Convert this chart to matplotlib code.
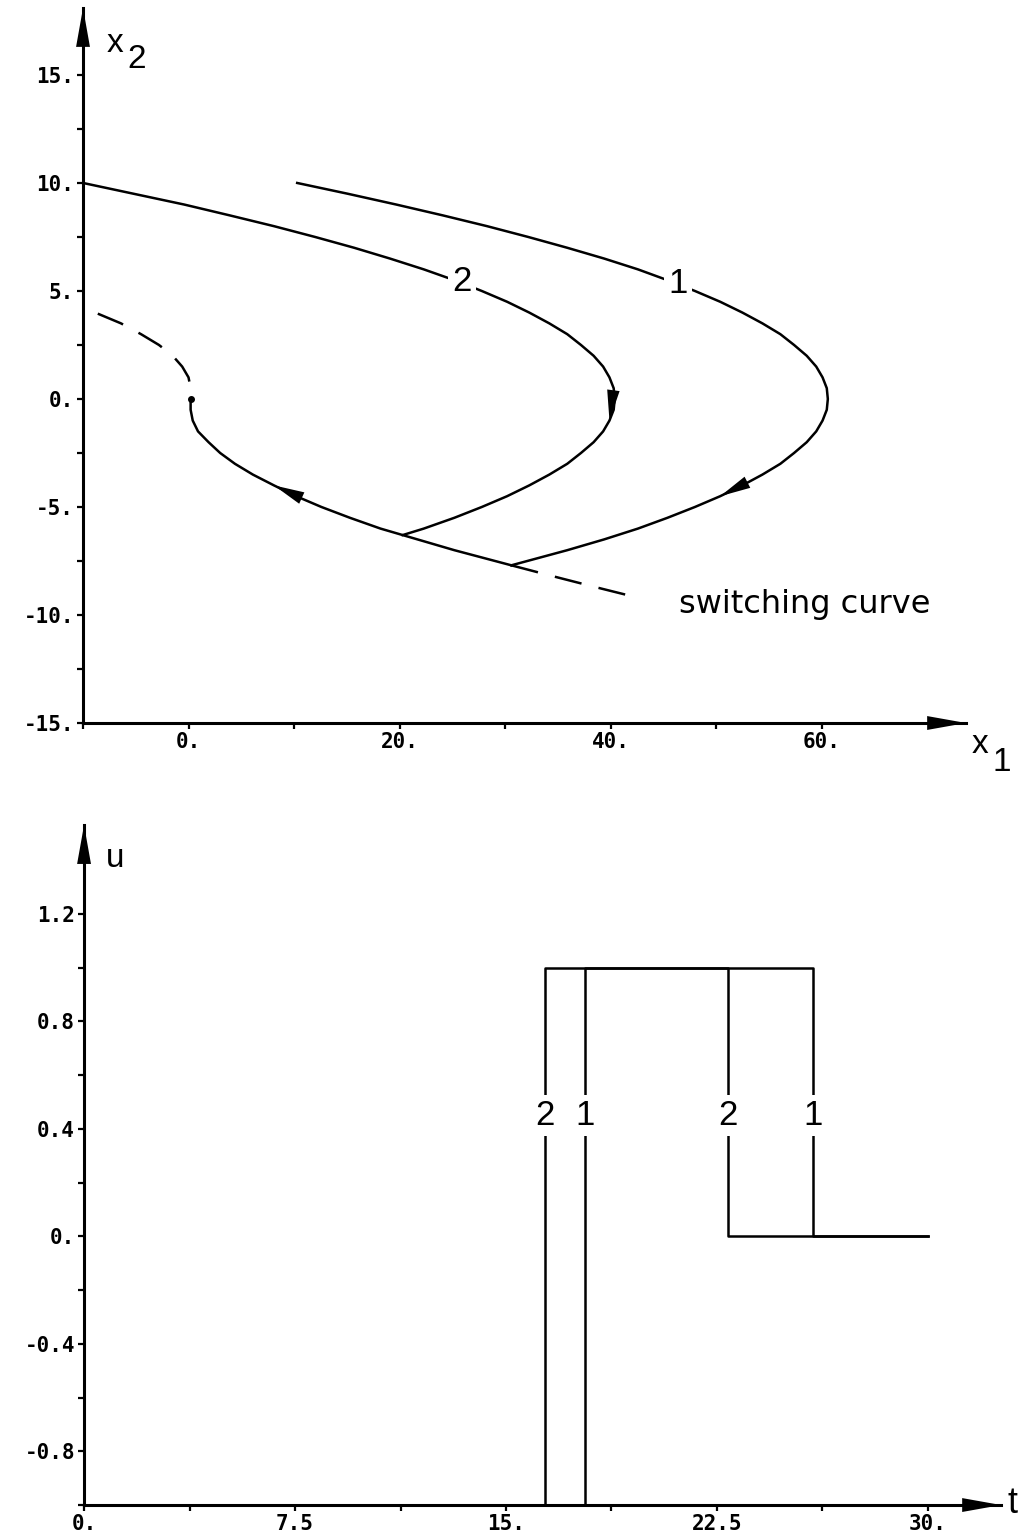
import numpy as np
import matplotlib.pyplot as plt

# Phase plane: trajectories 1 and 2 (x2 going down, x1)
traj1_x2 = [10, 9.5, 9, 8.5, 8, 7.5, 7, 6.5, 6, 5.5, 5, 4.5, 4, 3.5, 3, 2.5, 2, 1.5, 1, 0.5, 0,
            -0.5, -1, -1.5, -2, -2.5, -3, -3.5, -4, -4.5, -5, -5.5, -6, -6.5, -7, -7.7]
traj1_x1 = [10.3, 15.1, 19.7, 24.1, 28.3, 32.2, 35.9, 39.4, 42.6, 45.4, 48.0, 50.4, 52.5, 54.4,
            56.1, 57.4, 58.6, 59.5, 60.1, 60.5, 60.6, 60.5, 60.1, 59.5, 58.6, 57.4, 56.1, 54.4,
            52.5, 50.4, 48.0, 45.4, 42.6, 39.4, 35.9, 30.6]
traj2_x2 = [10, 9.5, 9, 8.5, 8, 7.5, 7, 6.5, 6, 5.5, 5, 4.5, 4, 3.5, 3, 2.5, 2, 1.5, 1, 0.5, 0,
            -0.5, -1, -1.5, -2, -2.5, -3, -3.5, -4, -4.5, -5, -5.5, -6, -6.3]
traj2_x1 = [-10.0, -5.2, -0.4, 3.9, 8.1, 12.0, 15.7, 19.1, 22.3, 25.2, 27.8, 30.2, 32.3, 34.2,
            35.9, 37.2, 38.4, 39.3, 39.9, 40.3, 40.4, 40.3, 39.9, 39.3, 38.4, 37.2, 35.9, 34.2,
            32.3, 30.2, 27.8, 25.2, 22.3, 20.3]

# switching curve, upper dashed branch, solid part, lower dashed tail
switch_x2 = [3.95, 3.5, 3.0, 2.5, 2.0, 1.5, 1.0, 0.5, 0.0, -0.5, -1.0, -1.5, -2.0, -2.5, -3.0,
             -3.5, -4.0, -4.5, -5.0, -5.5, -6.0, -6.3, -7.0, -7.7, -8.2, -8.7, -9.2]
switch_x1 = [-8.6, -6.4, -4.5, -2.8, -1.5, -0.6, 0.0, 0.2, 0.2, 0.2, 0.4, 0.9, 1.9, 3.0, 4.4,
             6.1, 8.1, 10.2, 12.6, 15.3, 18.2, 20.3, 25.2, 30.6, 34.5, 38.5, 42.6]
switch_solid = (0.0, -7.7)   # x2 range drawn solid

# curve number labels in the phase plane
phase_labels = ['2', '1']
phase_label_x1 = [25.9, 46.4]
phase_label_x2 = [5.43, 5.34]

# control u(t): both runs start at -1, switch to +1, then to 0
u_runs = ['2', '1']
t_on = [16.4, 17.8]
t_off = [22.9, 25.9]
t_end = 30.0
u_start, u_mid, u_final = -1.0, 1.0, 0.0
u_label_level = 0.45

# axis ticks
x1_major = [0, 20, 40, 60]
x1_minor = [-10, 10, 30, 50]
x2_major = [-15, -10, -5, 0, 5, 10, 15]
x2_minor = [-12.5, -7.5, -2.5, 2.5, 7.5, 12.5]
t_major = [0, 7.5, 15, 22.5, 30]
t_minor = [3.75, 11.25, 18.75, 26.25]
u_major = [-0.8, -0.4, 0, 0.4, 0.8, 1.2]
u_minor = [-1.0, -0.6, -0.2, 0.2, 0.6, 1.0]

x1_ticklabels = ['0.', '20.', '40.', '60.']
x2_ticklabels = ['-15.', '-10.', '-5.', '0.', '5.', '10.', '15.']
t_ticklabels = ['0.', '7.5', '15.', '22.5', '30.']
u_ticklabels = ['-0.8', '-0.4', '0.', '0.4', '0.8', '1.2']

plt.rcParams['font.family'] = ['DejaVu Sans']
tick_kw = dict(fontfamily='DejaVu Sans Mono', fontweight='bold', fontsize=15)
num_font = ['Liberation Sans', 'DejaVu Sans']
lw = 1.8

fig = plt.figure(figsize=(10.3, 15.37), dpi=100)
ax1 = fig.add_axes([0.0806, 0.5296, 0.8573, 0.4652])
ax2 = fig.add_axes([0.0816, 0.0208, 0.8903, 0.4424])


def style_axis(ax):
    for s in ['top', 'right']:
        ax.spines[s].set_visible(False)
    for s in ['left', 'bottom']:
        ax.spines[s].set_linewidth(2.2)
    ax.tick_params(which='both', direction='out', length=4.5, width=1.6, pad=2)
    # filled arrow heads at the end of both axes
    head = dict(arrowstyle='-|>,head_length=2.8,head_width=0.5', color='black',
                lw=0, mutation_scale=10, shrinkA=0, shrinkB=0)
    ax.annotate('', xy=(1, 0), xycoords='axes fraction', xytext=(-40, 0),
                textcoords='offset pixels', arrowprops=head)
    ax.annotate('', xy=(0, 1), xycoords='axes fraction', xytext=(0, -40),
                textcoords='offset pixels', arrowprops=head)


def curve_arrow(ax, xs, ys, i_base, i_tip):
    ax.annotate('', xy=(xs[i_tip], ys[i_tip]), xytext=(xs[i_base], ys[i_base]),
                arrowprops=dict(arrowstyle='-|>,head_length=2.2,head_width=0.45',
                                color='black', lw=0, mutation_scale=10,
                                shrinkA=0, shrinkB=0))


# ---- phase plane ----
ax1.set_xlim(-10, 73.7)
ax1.set_ylim(-15, 18.1)
style_axis(ax1)
ax1.set_xticks(x1_major, x1_ticklabels, **tick_kw)
ax1.set_xticks(x1_minor, minor=True)
ax1.set_yticks(x2_major, x2_ticklabels, **tick_kw)
ax1.set_yticks(x2_minor, minor=True)

ax1.plot(traj1_x1, traj1_x2, color='black', lw=lw, clip_on=False)
ax1.plot(traj2_x1, traj2_x2, color='black', lw=lw, clip_on=False)

sx1 = np.array(switch_x1)
sx2 = np.array(switch_x2)
upper = sx2 >= switch_solid[0]
solid = (sx2 <= switch_solid[0]) & (sx2 >= switch_solid[1])
tail = sx2 <= switch_solid[1]
ax1.plot(sx1[upper], sx2[upper], color='black', lw=lw, ls=(0, (11, 7)))
ax1.plot(sx1[solid], sx2[solid], color='black', lw=lw)
ax1.plot(sx1[tail], sx2[tail], color='black', lw=lw, ls=(0, (11, 7)))
ax1.plot(sx1[upper][-1], sx2[upper][-1], 'o', color='black', ms=4)

# direction arrows along the curves
curve_arrow(ax1, traj2_x1, traj2_x2, traj2_x2.index(0.5), traj2_x2.index(-1))
curve_arrow(ax1, traj1_x1, traj1_x2, traj1_x2.index(-3.5), traj1_x2.index(-4.5))
curve_arrow(ax1, switch_x1, switch_x2, switch_x2.index(-5.0), switch_x2.index(-4.0))

for lab, x, y in zip(phase_labels, phase_label_x1, phase_label_x2):
    ax1.text(x, y, lab, family=num_font, fontsize=25, ha='center', va='center',
             bbox=dict(facecolor='white', edgecolor='none', pad=3), zorder=5)

ax1.text(46.5, -9.9, 'switching curve', fontsize=23, va='baseline', ha='left')

# axis names x1, x2
ax1.annotate('x', xy=(0, 1), xycoords='axes fraction', xytext=(24, -44),
             textcoords='offset pixels', fontsize=24, family=num_font, va='baseline')
ax1.annotate('2', xy=(0, 1), xycoords='axes fraction', xytext=(44, -60),
             textcoords='offset pixels', fontsize=24, family=num_font, va='baseline')
ax1.annotate('x', xy=(1, 0), xycoords='axes fraction', xytext=(6, -30),
             textcoords='offset pixels', fontsize=24, family=num_font, va='baseline')
ax1.annotate('1', xy=(1, 0), xycoords='axes fraction', xytext=(26, -48),
             textcoords='offset pixels', fontsize=24, family=num_font, va='baseline')

# ---- control history ----
ax2.set_xlim(0, 32.6)
ax2.set_ylim(-1, 1.53)
style_axis(ax2)
ax2.set_xticks(t_major, t_ticklabels, **tick_kw)
ax2.set_xticks(t_minor, minor=True)
ax2.set_yticks(u_major, u_ticklabels, **tick_kw)
ax2.set_yticks(u_minor, minor=True)

for lab, ton, toff in zip(u_runs, t_on, t_off):
    t = [0, ton, ton, toff, toff, t_end]
    u = [u_start, u_start, u_mid, u_mid, u_final, u_final]
    ax2.plot(t, u, color='black', lw=lw, clip_on=False)
    for tx in (ton, toff):
        ax2.text(tx, u_label_level, lab, family=num_font, fontsize=25,
                 ha='center', va='center',
                 bbox=dict(facecolor='white', edgecolor='none', pad=3), zorder=5)

ax2.annotate('u', xy=(0, 1), xycoords='axes fraction', xytext=(22, -42),
             textcoords='offset pixels', fontsize=24, family=num_font, va='baseline')
ax2.annotate('t', xy=(1, 0), xycoords='axes fraction', xytext=(6, -8),
             textcoords='offset pixels', fontsize=26, family=num_font, va='baseline')

fig.savefig('out.png', dpi=100)
